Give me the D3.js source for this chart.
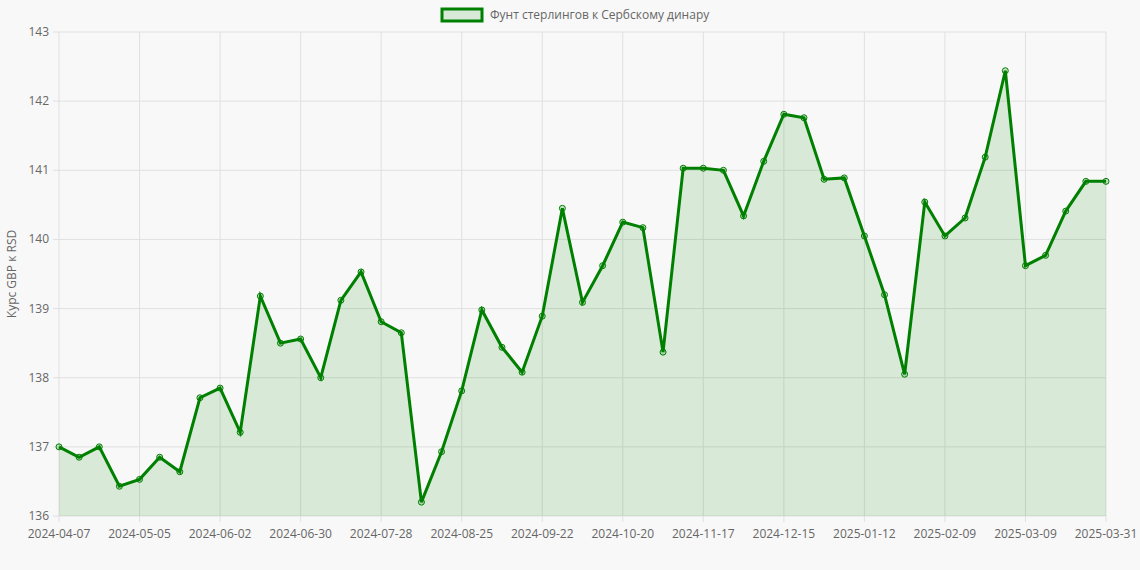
<!DOCTYPE html>
<html><head><meta charset="utf-8">
<script src="https://cdn.jsdelivr.net/npm/d3@7"></script>
<style>body{margin:0;background:#f8f8f8;font-family:"Open Sans",Arial,sans-serif}</style>
</head><body><svg id="c" width="1140" height="570"></svg>
<script>
const start = new Date(Date.UTC(2024,3,7));
const fmt = d3.utcFormat("%Y-%m-%d");
const labels = d3.range(52).map(i => fmt(d3.utcDay.offset(start, i*7))).concat(["2025-03-31"]);
labels[51] = "2025-03-30";
const values = [137.0,136.85,137.0,136.43,136.53,136.85,136.64,137.71,137.85,137.21,
139.18,138.5,138.56,138.0,139.12,139.53,138.81,138.65,136.2,136.93,
137.81,138.98,138.44,138.08,138.89,140.45,139.09,139.62,140.25,140.17,
138.37,141.03,141.03,141.0,140.34,141.13,141.81,141.76,140.87,140.89,
140.05,139.2,138.05,140.54,140.05,140.31,141.19,142.44,139.62,139.77,
140.41,140.84,140.84];
const yTicks = [136,137,138,139,140,141,142,143];
const tickIdx = [0,4,8,12,16,20,24,28,32,36,40,44,48,52];
const seriesName = "Фунт стерлингов к Сербскому динару";

const svg = d3.select("#c");
const L=59,R=1106,T=32,B=516;
const x = d3.scalePoint().domain(labels).range([L,R]);
const y = d3.scaleLinear().domain([136,143]).range([B,T]);
const grid="#e0e0e0";
svg.append("g").selectAll("line").data(yTicks).join("line")
 .attr("x1",L-6).attr("x2",R).attr("y1",d=>y(d)).attr("y2",d=>y(d)).attr("stroke",grid);
svg.append("g").selectAll("line").data(tickIdx).join("line")
 .attr("x1",d=>x(labels[d])).attr("x2",d=>x(labels[d])).attr("y1",T).attr("y2",B+6).attr("stroke",grid);
svg.append("g").selectAll("text").data(yTicks).join("text")
 .attr("x",L-10).attr("y",d=>y(d)+4).attr("text-anchor","end").attr("font-size",12).attr("fill","#666").text(d=>d);
svg.append("g").selectAll("text").data(tickIdx).join("text")
 .attr("x",d=>x(labels[d])).attr("y",B+22).attr("text-anchor","middle").attr("font-size",12).attr("fill","#666").text(d=>labels[d]);
svg.append("text").attr("transform",`translate(16,${(T+B)/2}) rotate(-90)`).attr("text-anchor","middle")
 .attr("font-size",12).attr("fill","#666").text("Курс GBP к RSD");
const area = d3.area().x((d,i)=>x(labels[i])).y0(B).y1(d=>y(d));
const line = d3.line().x((d,i)=>x(labels[i])).y(d=>y(d));
svg.append("path").datum(values).attr("d",area).attr("fill","rgba(0,128,0,0.13)");
svg.append("path").datum(values).attr("d",line).attr("fill","none").attr("stroke","green").attr("stroke-width",3);
svg.append("g").selectAll("circle").data(values).join("circle")
 .attr("cx",(d,i)=>x(labels[i])).attr("cy",d=>y(d)).attr("r",3).attr("fill","rgba(0,128,0,0.2)").attr("stroke","green").attr("stroke-width",1);
// legend
const lg = svg.append("g");
const tw = 210;
const lx = 570 - (tw+46)/2;
lg.append("rect").attr("x",lx).attr("y",9).attr("width",40).attr("height",12).attr("fill","rgba(0,128,0,0.13)").attr("stroke","green").attr("stroke-width",3);
lg.append("text").attr("x",lx+48).attr("y",19).attr("font-size",12).attr("fill","#666").text(seriesName);
</script></body></html>
